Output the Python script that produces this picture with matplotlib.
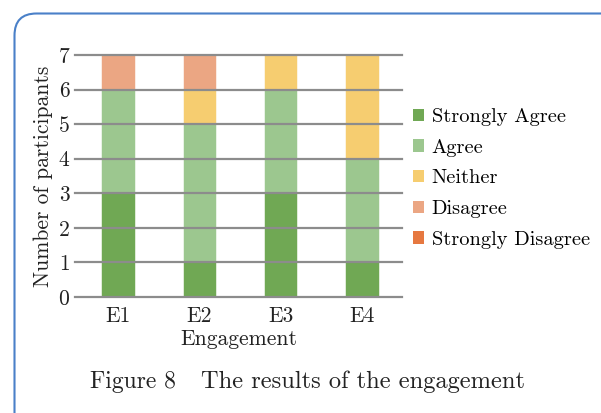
import matplotlib
matplotlib.use('Agg')
import matplotlib.pyplot as plt
from matplotlib.patches import FancyBboxPatch, Patch
from matplotlib.transforms import IdentityTransform
import numpy as np

plt.rcParams['font.family'] = 'cmr10'
plt.rcParams['axes.formatter.use_mathtext'] = True

categories = ['E1', 'E2', 'E3', 'E4']
responses = ['Strongly Agree', 'Agree', 'Neither', 'Disagree', 'Strongly Disagree']
strongly_agree = [3, 1, 3, 1]
agree = [3, 4, 3, 3]
neither = [0, 1, 1, 3]
disagree = [1, 1, 0, 0]
strongly_disagree = [0, 0, 0, 0]
colors = ['#70a854', '#9cc78f', '#f6cd70', '#eba683', '#e67840']

fig = plt.figure(figsize=(6.01, 4.13), dpi=100)
ax = fig.add_axes([75 / 601, 1 - 297 / 413, 327 / 601, 242 / 413])

x = np.arange(len(categories))
bottom = np.zeros(len(categories))
for vals, color in zip([strongly_agree, agree, neither, disagree, strongly_disagree], colors):
    ax.bar(x, vals, 0.41, bottom=bottom, color=color, edgecolor='white', linewidth=0.4, zorder=1)
    bottom += np.array(vals)

for t in range(8):
    ax.axhline(t, color='#8c8c8c', linewidth=1.6, zorder=3, clip_on=False)

ax.set_xlim(-0.53, 3.49)
ax.set_ylim(0, 7)
ax.set_yticks(range(8))
ax.set_yticklabels([str(t) for t in range(8)], fontsize=15.5)
ax.set_xticks(x)
ax.set_xticklabels(categories, fontsize=15.5)
ax.tick_params(axis='y', length=0, pad=4)
ax.tick_params(axis='x', length=0, pad=7)
for s in ax.spines.values():
    s.set_visible(False)
ax.set_xlabel('Engagement', fontsize=15.5, labelpad=2, color='#222222')
ax.set_ylabel('Number of participants', fontsize=15.5, labelpad=4, color='#222222')
ax.tick_params(colors='#222222')

handles = [Patch(facecolor=c, edgecolor='none') for c in colors]
fig.legend(handles, responses, loc='upper left', bbox_to_anchor=(405 / 601, 1 - 100 / 413),
           frameon=False, fontsize=14.7, handlelength=0.55, handleheight=0.55,
           handletextpad=0.35, labelspacing=0.62, borderaxespad=0)

fig.text(90 / 601, 1 - 382 / 413, 'Figure 8', fontsize=17, ha='left', va='center', color='#222222')
fig.text(525 / 601, 1 - 382 / 413, 'The results of the engagement',
         fontsize=17.6, ha='right', va='center', color='#222222')

frame = FancyBboxPatch((14.5, -40), 640, 413 - 13.5 + 40,
                       boxstyle='round,pad=0,rounding_size=22',
                       facecolor='none', edgecolor='#4a80c8', linewidth=1.5,
                       transform=IdentityTransform())
fig.patches.append(frame)

fig.savefig('out.png', dpi=100)
